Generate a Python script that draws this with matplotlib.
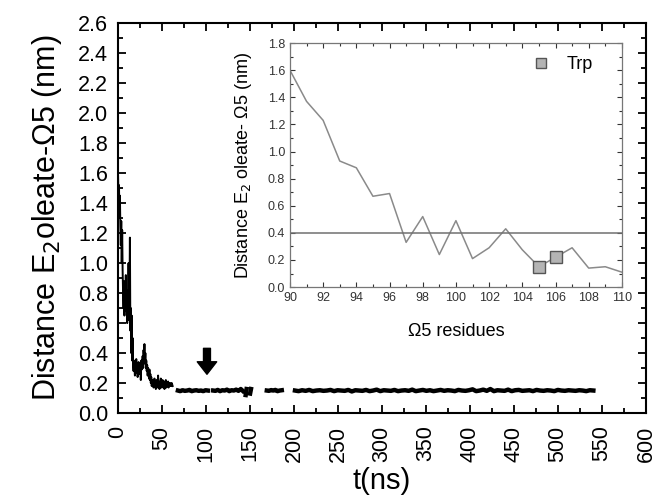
import numpy as np
import matplotlib.pyplot as plt
from matplotlib.ticker import MultipleLocator

plt.rcParams['font.family'] = ['Liberation Sans', 'DejaVu Sans']

# main trace, early part (0-62 ns)
early_t0, early_t1 = 0.0, 62.0
early_d = [1.58, 1.42, 1.52, 1.30, 1.45, 1.25, 1.12, 1.28, 1.00, 1.22, 0.95,
           0.80, 0.70, 0.88, 0.65, 0.78, 0.72, 0.92, 0.68, 0.75, 0.60, 0.82, 0.70, 1.00, 0.62,
           0.75, 1.17, 0.55, 0.70, 0.40, 0.65, 0.35, 0.50,
           0.32, 0.28, 0.35, 0.30, 0.25, 0.33, 0.29, 0.36, 0.27, 0.31, 0.24, 0.30, 0.34, 0.28,
           0.26, 0.33, 0.30, 0.22, 0.35, 0.29, 0.32, 0.38, 0.30, 0.42, 0.36, 0.46, 0.33, 0.40,
           0.30, 0.35, 0.28, 0.32, 0.25, 0.30, 0.27, 0.23, 0.29, 0.22, 0.26, 0.20, 0.24, 0.18,
           0.22, 0.19, 0.21, 0.17, 0.20, 0.23, 0.18, 0.21, 0.16, 0.19, 0.22, 0.17, 0.20, 0.25,
           0.18, 0.21, 0.16, 0.20, 0.19, 0.23, 0.17, 0.20, 0.18, 0.22, 0.17, 0.19, 0.21, 0.16,
           0.20, 0.18, 0.22, 0.17, 0.19, 0.20, 0.18, 0.21, 0.17, 0.20, 0.19, 0.18, 0.20, 0.19,
           0.18, 0.20, 0.19, 0.18]

# later segments (start ns, end ns, values)
seg_a = (68, 102, [0.150, 0.146, 0.152, 0.148, 0.150, 0.154, 0.146, 0.150, 0.152, 0.148,
                   0.150, 0.146, 0.152, 0.150])
seg_b = (108, 142, [0.150, 0.148, 0.154, 0.146, 0.152, 0.150, 0.156, 0.146, 0.152, 0.150,
                    0.156, 0.148, 0.160, 0.146])
seg_c = (145, 146, [0.12, 0.16])
seg_d = (150, 151, [0.13, 0.16])
seg_e = (169, 186, [0.150, 0.148, 0.153, 0.150, 0.154, 0.146, 0.150, 0.152])
seg_f = (201, 540, [0.150, 0.146, 0.152, 0.148, 0.154, 0.146, 0.150, 0.152, 0.148, 0.150,
                    0.154, 0.146, 0.152, 0.150, 0.148, 0.154, 0.144, 0.152, 0.150, 0.148,
                    0.154, 0.146, 0.150, 0.156, 0.146, 0.152, 0.150, 0.148, 0.154, 0.146,
                    0.150, 0.152, 0.148, 0.156, 0.146, 0.150, 0.154, 0.148, 0.152, 0.146,
                    0.150, 0.154, 0.148, 0.152, 0.150, 0.146, 0.154, 0.150, 0.148, 0.152,
                    0.158, 0.146, 0.150, 0.156, 0.148, 0.160, 0.146, 0.152, 0.150, 0.148,
                    0.156, 0.146, 0.152, 0.154, 0.148, 0.150, 0.152, 0.146, 0.154, 0.150,
                    0.148, 0.152, 0.150, 0.146, 0.154, 0.150, 0.148, 0.152, 0.150, 0.148,
                    0.152, 0.150, 0.146, 0.152, 0.150])
segments = [seg_a, seg_b, seg_c, seg_d, seg_e, seg_f]

# inset: distance per residue
residues = list(range(90, 111))
res_dist = [1.60, 1.37, 1.23, 0.93, 0.88, 0.67, 0.69, 0.33, 0.52, 0.24, 0.49,
            0.21, 0.29, 0.43, 0.275, 0.15, 0.22, 0.29, 0.14, 0.15, 0.11]
trp_res = [105, 106]
trp_dist = [0.15, 0.22]
threshold = 0.4

arrow_t = 101
arrow_from, arrow_to = 0.45, 0.24

fig = plt.figure(figsize=(6.56, 5.01), dpi=100)
ax = fig.add_axes([0.180, 0.1756, 0.805, 0.778])

t_early = np.linspace(early_t0, early_t1, len(early_d))
ax.plot(t_early, early_d, color='black', lw=1.4)
for t0, t1, vals in segments:
    ax.plot(np.linspace(t0, t1, len(vals)), vals, color='black', lw=3.2)

ax.annotate('', xy=(arrow_t, arrow_to), xytext=(arrow_t, arrow_from),
            arrowprops=dict(arrowstyle='simple,head_width=1.4,head_length=0.9,tail_width=0.5',
                            color='black'))

ax.set_xlim(0, 600)
ax.set_ylim(0, 2.6)
ax.xaxis.set_major_locator(MultipleLocator(50))
ax.xaxis.set_minor_locator(MultipleLocator(25))
ax.yaxis.set_major_locator(MultipleLocator(0.2))
ax.yaxis.set_minor_locator(MultipleLocator(0.1))
ax.yaxis.set_major_formatter(plt.FormatStrFormatter('%.1f'))
ax.tick_params(which='both', direction='in', top=True, right=True, width=1.3)
ax.tick_params(which='major', length=6, labelsize=15.5, pad=7)
ax.tick_params(axis='x', which='major', pad=9)
ax.tick_params(which='minor', length=3.5)
for lab in ax.get_xticklabels():
    lab.set_rotation(90)
for s in ax.spines.values():
    s.set_linewidth(1.5)
ax.set_xlabel('t(ns)', fontsize=21, labelpad=4)
ax.set_ylabel('Distance E$_2$oleate-Ω5 (nm)', fontsize=22, labelpad=10)

# inset
ins = fig.add_axes([0.442, 0.427, 0.506, 0.487])
ins.plot(residues, res_dist, color='#8a8a8a', lw=1.1)
ins.axhline(threshold, color='#707070', lw=1.1)
ins.plot(trp_res, trp_dist, 's', ms=8, mfc='#b4b4b4', mec='#555555', mew=1.0,
         ls='none', label='Trp')
ins.set_xlim(90, 110)
ins.set_ylim(0, 1.8)
ins.xaxis.set_major_locator(MultipleLocator(2))
ins.xaxis.set_minor_locator(MultipleLocator(1))
ins.yaxis.set_major_locator(MultipleLocator(0.2))
ins.yaxis.set_minor_locator(MultipleLocator(0.1))
ins.yaxis.set_major_formatter(plt.FormatStrFormatter('%.1f'))
ins.tick_params(which='both', direction='in', top=True, right=True, width=0.8,
                labelsize=9, colors='#333333', labelcolor='#333333')
ins.tick_params(which='major', length=3.5)
ins.tick_params(which='minor', length=2)
for s in ins.spines.values():
    s.set_linewidth(0.9)
    s.set_color('#777777')
ins.set_xlabel('Ω5 residues', fontsize=13, labelpad=14)
ins.set_ylabel('Distance E$_2$ oleate- Ω5 (nm)', fontsize=13, labelpad=10)
leg = ins.legend(loc='upper right', bbox_to_anchor=(0.934, 0.975), frameon=False,
                 fontsize=13, handletextpad=0.4, borderaxespad=0)
leg.legend_handles[0].set_markersize(7)

fig.savefig('out.png', dpi=100)
